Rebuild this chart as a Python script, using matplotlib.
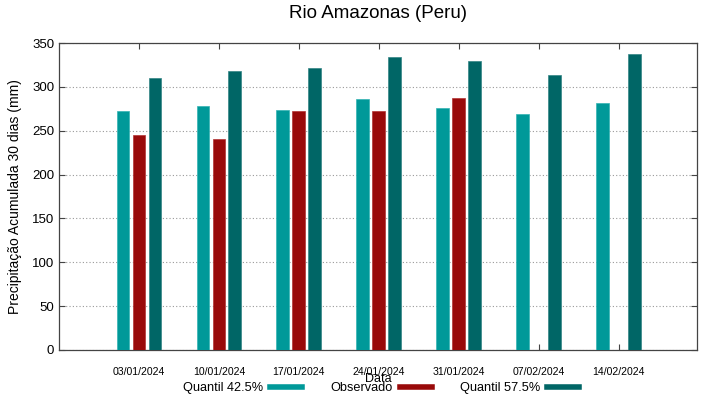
import matplotlib
matplotlib.use("Agg")
import matplotlib.pyplot as plt
from matplotlib.lines import Line2D
import numpy as np

plt.rcParams['font.family'] = ['Liberation Sans', 'DejaVu Sans']

dates = ["03/01/2024", "10/01/2024", "17/01/2024", "24/01/2024",
         "31/01/2024", "07/02/2024", "14/02/2024"]
q425 = [272, 278, 274, 286, 276, 269, 282]
observado = [245, 240, 273, 272, 287, np.nan, np.nan]
q575 = [310, 318, 322, 334, 330, 314, 338]

c_q425 = "#009999"
c_obs = "#990a0a"
c_q575 = "#006666"

fig = plt.figure(figsize=(7.19, 3.99), dpi=100)
ax = fig.add_axes([59/719, 1-350/399, (697-59)/719, (350-43)/399])

x = np.arange(1, len(dates)+1)
w = 0.16
ax.bar(x-0.2, q425, w, color=c_q425, edgecolor="#33b3b3", linewidth=0.5, zorder=3)
ax.bar(x, observado, w, color=c_obs, edgecolor="#b33333", linewidth=0.5, zorder=3)
ax.bar(x+0.2, q575, w, color=c_q575, edgecolor="#338585", linewidth=0.5, zorder=3)

ax.set_xlim(0, 7.98)
ax.set_ylim(0, 350)
ax.set_xticks(x)
ax.set_xticklabels(dates, fontsize=7.6)
ax.set_yticks(np.arange(0, 351, 50))
ax.tick_params(axis='y', labelsize=9.5, direction='in', right=True, length=4, width=0.8, color="#444444")
ax.tick_params(axis='x', direction='in', top=True, length=4, width=0.8, color="#444444", pad=12)
ax.yaxis.grid(True, linestyle=(0, (1, 2)), color="#999999", linewidth=0.8, zorder=0)
for s in ax.spines.values():
    s.set_color("#444444")
    s.set_linewidth(0.9)

ax.set_title("Rio Amazonas (Peru)", fontsize=13.5, pad=18)
ax.set_ylabel("Precipitação Acumulada 30 dias (mm)", fontsize=10, labelpad=7)
ax.set_xlabel("Data", fontsize=9, labelpad=-3)

handles = [Line2D([0], [0], color=c_q425, lw=4),
           Line2D([0], [0], color=c_obs, lw=4),
           Line2D([0], [0], color=c_q575, lw=4)]
labels = ["Quantil 42.5%", "Observado", "Quantil 57.5%"]
fig.legend(handles, labels, loc="center", bbox_to_anchor=(381/719, 1-388/399),
           ncol=3, markerfirst=False, frameon=False, fontsize=9.2,
           handlelength=2.5, handletextpad=0.55, columnspacing=2.2,
           borderpad=0, borderaxespad=0)

fig.savefig("out.png", dpi=100)
